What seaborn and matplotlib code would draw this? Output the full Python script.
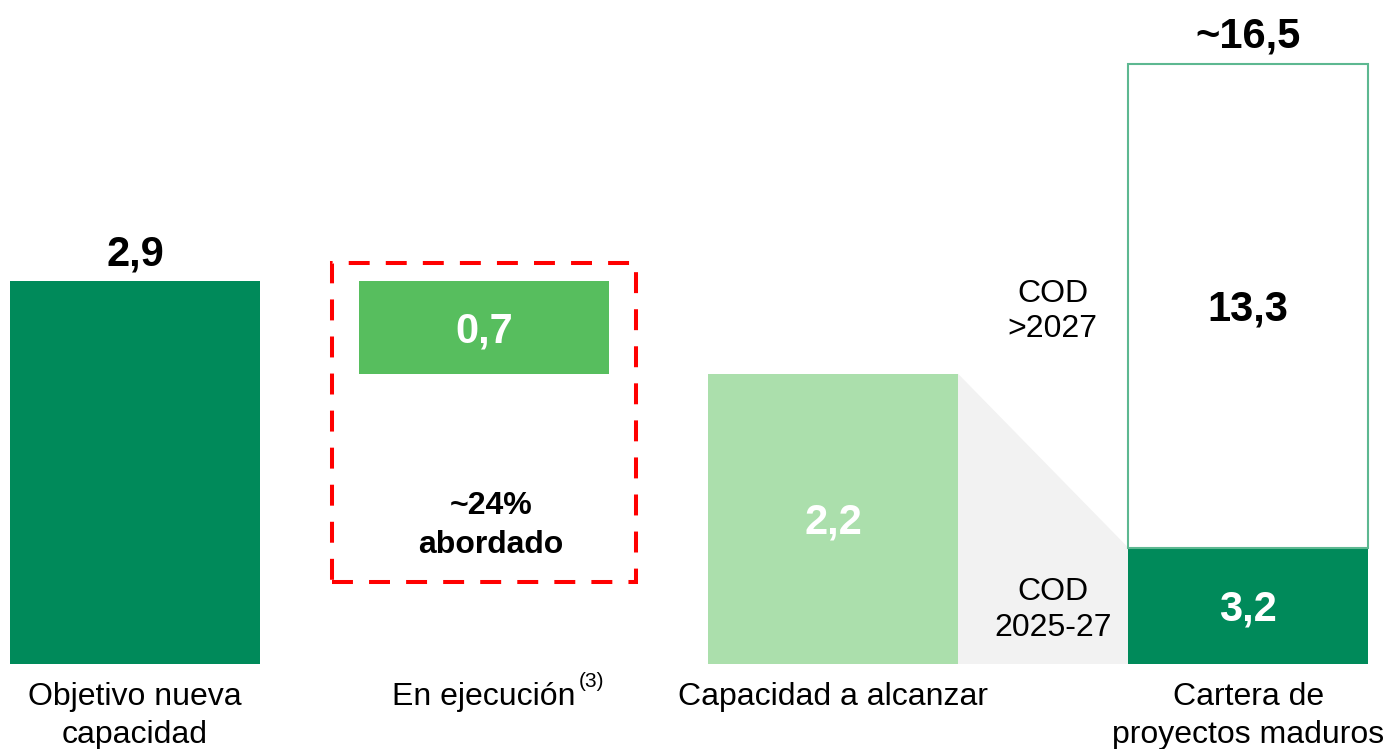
import matplotlib
matplotlib.use("Agg")
import matplotlib.pyplot as plt
from matplotlib.patches import Rectangle, Polygon
import seaborn as sns

# Category labels along the bottom
categories = ["Objetivo nueva\ncapacidad", "En ejecución", "Capacidad a alcanzar",
              "Cartera de\nproyectos maduros"]
footnote = "(3)"

# Capacity figures (GW)
objetivo = 2.9
en_ejecucion = 0.7
por_alcanzar = 2.2
cartera_2025_27 = 3.2
cartera_post_2027 = 13.3
cartera_total = 16.5
cod_labels = ["COD\n>2027", "COD\n2025-27"]

# Horizontal placement of the four columns (the pipeline column sits further out)
positions = [0, 1, 2, 3.19]
bar_w = 0.716
bar_w4 = 0.688

DARK = "#008A5A"
MID = "#57BE5E"
PALE = "#ABDFAC"
GREY = "#F2F2F2"
OUTLINE = "#5DB891"
RED = "#FF0000"

sns.set_theme(style="white")
plt.rcParams["font.family"] = ["Liberation Sans", "DejaVu Sans"]
plt.rcParams["text.color"] = "black"
plt.rcParams["xtick.color"] = "black"
plt.rcParams["xtick.labelcolor"] = "black"


def fmt(v):
    return f"{v:.1f}".replace(".", ",")


fig = plt.figure(figsize=(13.84, 7.49), dpi=100)
ax = fig.add_axes([0, 85 / 749, 1, 664 / 749])
ax2 = ax.twinx()

common = dict(orient="x", native_scale=True, errorbar=None, saturation=1)
sns.barplot(x=[positions[0]], y=[objetivo], color=DARK, width=bar_w,
            linewidth=0, ax=ax, **common)
sns.barplot(x=[positions[1]], y=[en_ejecucion], bottom=objetivo - en_ejecucion,
            color=MID, width=bar_w, linewidth=0, ax=ax, **common)
sns.barplot(x=[positions[2]], y=[por_alcanzar], color=PALE, width=bar_w,
            linewidth=0, ax=ax, **common)
# Pipeline column on its own scale
sns.barplot(x=[positions[3]], y=[cartera_2025_27], color=DARK, width=bar_w4,
            linewidth=0, ax=ax2, **common)
sns.barplot(x=[positions[3]], y=[cartera_post_2027], bottom=cartera_2025_27,
            color="white", edgecolor=OUTLINE, linewidth=1.5, width=bar_w4,
            ax=ax2, **common)

ax.set_xlim(-0.387, 3.579)
ax.set_ylim(0, 664 / 132.0)
ax2.set_ylim(0, 664 / 36.36)

# Grey wedge linking the remaining capacity to the near-term pipeline
x_left = positions[2] + bar_w / 2
x_right = positions[3] - bar_w4 / 2
y_join = ax.transData.inverted().transform(
    ax2.transData.transform((x_right, cartera_2025_27)))[1]
ax.add_patch(Polygon([(x_left, 0), (x_left, por_alcanzar), (x_right, y_join), (x_right, 0)],
                     closed=True, facecolor=GREY, edgecolor="none", zorder=0))

# Dashed frame around the "in execution" column
ax.add_patch(Rectangle((positions[1] - 0.4355, 0.621), 0.871, 2.417, fill=False,
                       edgecolor=RED, linewidth=2.9, linestyle=(0, (5.2, 4)),
                       zorder=3, clip_on=False))

# Value labels
big = dict(fontsize=30, fontweight="bold", ha="center", va="baseline",
           textcoords="offset points")
inside = (0, -10.8)
ax.annotate(fmt(objetivo), (positions[0], objetivo), xytext=(0, 11), **big)
ax.annotate(fmt(en_ejecucion), (positions[1], objetivo - en_ejecucion / 2), xytext=inside,
            color="white", **big)
ax.annotate(fmt(por_alcanzar), (positions[2], por_alcanzar / 2), xytext=inside,
            color="white", **big)
ax2.annotate(fmt(cartera_2025_27), (positions[3], cartera_2025_27 / 2), xytext=inside,
             color="white", **big)
ax2.annotate(fmt(cartera_post_2027), (positions[3], cartera_2025_27 + cartera_post_2027 / 2),
             xytext=inside, color="black", **big)
ax2.annotate("~" + fmt(cartera_total), (positions[3], cartera_total), xytext=(0, 12), **big)

pct = round(100 * en_ejecucion / objetivo)
ax.text(positions[1] + 0.02, 1.05, f"~{pct}%\nabordado", fontsize=23, fontweight="bold",
        ha="center", va="center", linespacing=1.41)

x_cod = 2.63
ax2.annotate(cod_labels[0], (x_cod, cartera_2025_27 + cartera_post_2027 / 2), xytext=(0, -4),
             textcoords="offset points", fontsize=23, ha="center", va="center",
             linespacing=1.25)
ax2.annotate(cod_labels[1], (x_cod, cartera_2025_27 / 2), xytext=(0, -3),
             textcoords="offset points", fontsize=23, ha="center", va="center",
             linespacing=1.25)

# Axes cosmetics
ax.set_xticks(positions)
ax.set_xticklabels(categories, fontsize=23, linespacing=1.34)
ax.tick_params(axis="x", length=0, pad=13.3)
ax.set_yticks([])
ax2.set_yticks([])
for a in (ax, ax2):
    a.set_xlabel("")
    a.set_ylabel("")
    for s in a.spines.values():
        s.set_visible(False)

lbl = ax.get_xticklabels()[1]
ax.annotate(footnote, xy=(1, 1), xycoords=lbl, xytext=(2.5, 7.5), textcoords="offset points",
            ha="left", va="top", fontsize=15)

fig.savefig("out.png", dpi=100)
